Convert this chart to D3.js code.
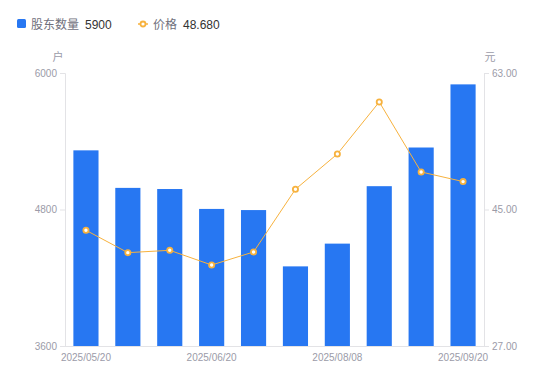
<!DOCTYPE html>
<html>
<head>
<meta charset="utf-8">
<script src="https://cdn.jsdelivr.net/npm/d3@7/dist/d3.min.js"></script>
<style>
  body { margin: 0; background: #fff; font-family: "Liberation Sans", "Noto Sans CJK SC", sans-serif; }
</style>
</head>
<body>
<svg id="chart" width="550" height="381"></svg>
<script>
var dates = ['2025/05/20', '2025/05/31', '2025/06/10', '2025/06/20', '2025/06/30',
             '2025/07/20', '2025/08/08', '2025/08/20', '2025/08/31', '2025/09/20'];
var holders = [5320, 4990, 4980, 4805, 4795, 4300, 4500, 5005, 5345, 5900];
var prices = [42.26, 39.31, 39.62, 37.68, 39.40, 47.67, 52.32, 59.18, 49.95, 48.68];
var leftTicks = [3600, 4800, 6000];
var rightTicks = [27, 45, 63];
var xTickLabels = ['2025/05/20', '2025/06/20', '2025/08/08', '2025/09/20'];

var svg = d3.select('#chart');
var margin = { left: 65, right: 66, top: 73, bottom: 35 };
var W = 550, H = 381;
var axisColor = '#e3e3e6', textColor = '#9b9ba8';
var blue = '#2777f2', orange = '#f7b23e';
var tickFont = '"Liberation Sans", Arial, sans-serif';
var cjkFont = '"Noto Sans CJK SC", sans-serif';

var x = d3.scaleBand().domain(dates)
    .range([margin.left, W - margin.right]).paddingInner(0.4).paddingOuter(0.2);
var yL = d3.scaleLinear().domain([3600, 6000]).range([H - margin.bottom, margin.top]);
var yR = d3.scaleLinear().domain([27, 63]).range([H - margin.bottom, margin.top]);

// left axis
var gl = svg.append('g')
    .attr('transform', 'translate(' + margin.left + ',0)')
    .call(d3.axisLeft(yL).tickValues(leftTicks).tickSize(5).tickPadding(3)
          .tickFormat(d3.format('d')));
// right axis
var gr = svg.append('g')
    .attr('transform', 'translate(' + (W - margin.right) + ',0)')
    .call(d3.axisRight(yR).tickValues(rightTicks).tickSize(5).tickPadding(3)
          .tickFormat(d3.format('.2f')));
// bottom axis
var gb = svg.append('g')
    .attr('transform', 'translate(0,' + (H - margin.bottom) + ')')
    .call(d3.axisBottom(x).tickValues(xTickLabels).tickSize(0).tickPadding(8));

[gl, gr, gb].forEach(function(g) {
  g.selectAll('path, line').attr('stroke', axisColor);
  g.selectAll('text').attr('fill', textColor).style('font-size', '10px')
    .style('font-family', tickFont);
});
gb.select('.domain').attr('d', 'M' + (margin.left - 5) + ',0.5H' + (W - margin.right + 5));

// unit labels
svg.append('text').text('户').attr('x', 58).attr('y', 61)
  .attr('text-anchor', 'middle').attr('fill', textColor)
  .style('font-size', '11px').style('font-family', cjkFont);
svg.append('text').text('元').attr('x', 490).attr('y', 61)
  .attr('text-anchor', 'middle').attr('fill', textColor)
  .style('font-size', '11px').style('font-family', cjkFont);

// bars
svg.append('g').selectAll('rect').data(holders).enter().append('rect')
  .attr('x', function(d, i) { return x(dates[i]); })
  .attr('width', x.bandwidth())
  .attr('y', function(d) { return yL(d); })
  .attr('height', function(d) { return yL(3600) - yL(d); })
  .attr('fill', blue);

// price line
var line = d3.line()
  .x(function(d, i) { return x(dates[i]) + x.bandwidth() / 2; })
  .y(function(d) { return yR(d); });
svg.append('path').datum(prices)
  .attr('d', line).attr('fill', 'none').attr('stroke', orange).attr('stroke-width', 1);
svg.append('g').selectAll('circle').data(prices).enter().append('circle')
  .attr('cx', function(d, i) { return x(dates[i]) + x.bandwidth() / 2; })
  .attr('cy', function(d) { return yR(d); })
  .attr('r', 2.6)
  .attr('fill', '#fff').attr('stroke', orange).attr('stroke-width', 1.8);

// legend
var lg = svg.append('g').style('font-size', '12px');
lg.append('rect').attr('x', 17).attr('y', 19).attr('width', 9).attr('height', 9)
  .attr('rx', 1.5).attr('fill', blue);
lg.append('text').text('股东数量').attr('x', 31).attr('y', 28.5)
  .attr('fill', '#70707c').style('font-family', cjkFont);
lg.append('text').text(holders[holders.length - 1]).attr('x', 85).attr('y', 28.5)
  .attr('fill', '#333').style('font-family', tickFont);
lg.append('line').attr('x1', 138).attr('x2', 148).attr('y1', 24).attr('y2', 24)
  .attr('stroke', orange).attr('stroke-width', 1.5);
lg.append('circle').attr('cx', 143).attr('cy', 24).attr('r', 2.5)
  .attr('fill', '#fff').attr('stroke', orange).attr('stroke-width', 1.8);
lg.append('text').text('价格').attr('x', 153).attr('y', 28.5)
  .attr('fill', '#70707c').style('font-family', cjkFont);
lg.append('text').text(prices[prices.length - 1].toFixed(3)).attr('x', 183).attr('y', 28.5)
  .attr('fill', '#333').style('font-family', tickFont);
</script>
</body>
</html>
